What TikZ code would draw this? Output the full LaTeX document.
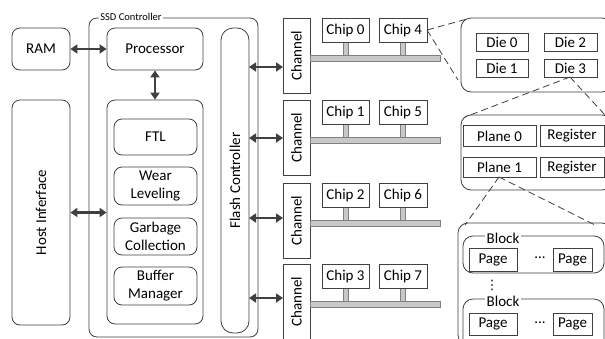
\documentclass[tikz,border=0pt]{standalone}
\usepackage{fontspec}
\setmainfont{Carlito}
\newfontfamily\dvfont{DejaVu Sans}
\usetikzlibrary{arrows.meta}
\definecolor{ln}{HTML}{404040}
\definecolor{busfill}{HTML}{C8C8C8}
\newcommand\mfs{\fontsize{15}{18}\selectfont}
\newcommand\sfs{\fontsize{10.5}{12}\selectfont}
\tikzset{
  box/.style={draw=ln, line width=0.8pt, rounded corners=8pt, inner sep=0pt, font=\mfs, align=center},
  sbox/.style={draw=ln, line width=0.8pt, inner sep=0pt, font=\mfs, align=center},
  busbar/.style={draw=gray, fill=busfill, line width=0.6pt},
  dbl/.style={draw=ln, line width=2.4pt, {Triangle[length=7pt,width=9pt]}-{Triangle[length=7pt,width=9pt]}},
  zoomline/.style={draw=ln, line width=0.8pt, dash pattern=on 7pt off 4pt},
  lbl/.style={fill=white, inner sep=2pt, font=\mfs},
}
\begin{document}
\begin{tikzpicture}[x=1pt,y=-1pt]
\useasboundingbox (0,0) rectangle (605,338);
\clip (0,0) rectangle (605,338);
\fill[white] (0,0) rectangle (605,338);

% SSD controller frame
\draw[ln, line width=0.8pt, rounded corners=8pt] (89,18) rectangle (258,337);
\node[lbl, font=\sfs, inner sep=1.5pt] (ssdl) at (131,16.5) {SSD Controller};

% left side
\node[box, minimum width=58pt, minimum height=42pt] (ram) at (41,49) {RAM};
\node[box, minimum width=96pt, minimum height=42pt] (proc) at (155,49) {Processor};
\node[box, minimum width=58pt, minimum height=225pt] (host) at (41,212.5) {};
\node[font=\mfs, rotate=90] (hostt) at (host.center) {Host Inferface};
\node[box, minimum width=96pt, minimum height=224pt] (alg) at (155,212) {};
\node[box, minimum width=83pt, minimum height=36pt] (ftl) at (155.5,137) {FTL};
\node[box, minimum width=83pt, minimum height=38pt] (wear) at (155.5,186) {Wear\\Leveling};
\node[box, minimum width=83pt, minimum height=37pt] (gc) at (155.5,236.5) {Garbage\\Collection};
\node[box, minimum width=83pt, minimum height=38pt] (buf) at (155.5,286) {Buffer\\Manager};
\node[box, rounded corners=12pt, minimum width=28pt, minimum height=305pt] (flash) at (235,180.5) {};
\node[font=\mfs, rotate=90] (flasht) at (flash.center) {Flash Controller};

\draw[dbl] (ram.east) -- (proc.west);
\draw[dbl] (proc.south) -- (alg.north);
\draw[dbl] (host.east) -- (alg.west |- host.east);

% channels
\foreach \i/\t/\ay/\a/\b in {1/18/67/0/4, 2/100/138/1/5, 3/183/218/2/6, 4/264/298/3/7}{
  \node[sbox, minimum width=27pt, minimum height=75pt, anchor=north] (ch\i) at (296.5,\t) {};
  \node[font=\mfs, rotate=90] at (296.5,\t+37.5) {Channel};
  \draw[busbar] (310,\t+37) rectangle (440,\t+43);
  \draw[busbar] (343,\t+24) rectangle (348,\t+37);
  \draw[busbar] (400,\t+24) rectangle (405,\t+37);
  \node[sbox, minimum width=47pt, minimum height=24pt, anchor=north] (chip\a) at (345.5,\t) {Chip \a};
  \node[sbox, minimum width=48pt, minimum height=24pt, anchor=north] (chip\b) at (403,\t) {Chip \b};
  \coordinate (fa\i) at (249,\ay);
  \coordinate (ca\i) at (283,\ay);
  \draw[dbl] (fa\i) -- (ca\i);
}

% dies
\node[box, rounded corners=10pt, minimum width=151pt, minimum height=74pt] (chipbox) at (536.5,55) {};
\node[sbox, minimum width=52pt, minimum height=18pt] (die0) at (502,42) {Die 0};
\node[sbox, minimum width=53pt, minimum height=18pt] (die2) at (570.5,42) {Die 2};
\node[sbox, minimum width=52pt, minimum height=18pt] (die1) at (502,68) {Die 1};
\node[sbox, minimum width=53pt, minimum height=18pt] (die3) at (570.5,68) {Die 3};

% planes
\node[box, rounded corners=10pt, minimum width=151pt, minimum height=75pt] (diebox) at (536.5,152.5) {};
\node[sbox, minimum width=73pt, minimum height=21pt] (pl0) at (499.5,136) {Plane 0};
\node[sbox, minimum width=64pt, minimum height=21pt] (rg0) at (572,136) {Register};
\node[sbox, minimum width=73pt, minimum height=20pt] (pl1) at (499.5,167.5) {Plane 1};
\node[sbox, minimum width=64pt, minimum height=20pt] (rg1) at (572,167.5) {Register};

% blocks
\node[box, rounded corners=10pt, minimum width=154pt, minimum height=122pt] (planebox) at (535,284) {};
\draw[ln, line width=0.8pt, rounded corners=10pt] (463,236) rectangle (604,273);
\node[lbl] (blk1) at (503,238) {Block};
\node[sbox, minimum width=48pt, minimum height=23pt] (pg1) at (493,259.5) {Page};
\node[sbox, minimum width=39pt, minimum height=23pt] (pg2) at (572.5,259.5) {Page};
\node[font=\mfs] (dots1) at (540,258) {...};
\node[font=\dvfont\fontsize{13}{14}\selectfont, inner sep=0pt] (vdots) at (492,285) {⋮};
\draw[ln, line width=0.8pt, rounded corners=10pt] (463,299) rectangle (604,350);
\node[lbl] (blk2) at (503,301) {Block};
\node[sbox, minimum width=48pt, minimum height=22pt] (pg3) at (493,324) {Page};
\node[sbox, minimum width=39pt, minimum height=22pt] (pg4) at (572.5,324) {Page};
\node[font=\mfs] (dots2) at (540,323) {...};

% zoom lines
\coordinate (c4e) at (427,30);
\coordinate (cbt) at (467,19);
\coordinate (cbb) at (458,80);
\draw[zoomline] (c4e) -- (cbt);
\draw[zoomline] (c4e) -- (cbb);
\coordinate (d3s) at (570,77);
\coordinate (dbl) at (465,117);
\coordinate (dbr) at (605,115);
\draw[zoomline] (d3s) -- (dbl);
\draw[zoomline] (d3s) -- (dbr);
\coordinate (p1s) at (499,177);
\coordinate (pbl) at (465,225);
\coordinate (pbr) at (595,225);
\draw[zoomline] (p1s) -- (pbl);
\draw[zoomline] (p1s) -- (pbr);
\end{tikzpicture}
\end{document}
